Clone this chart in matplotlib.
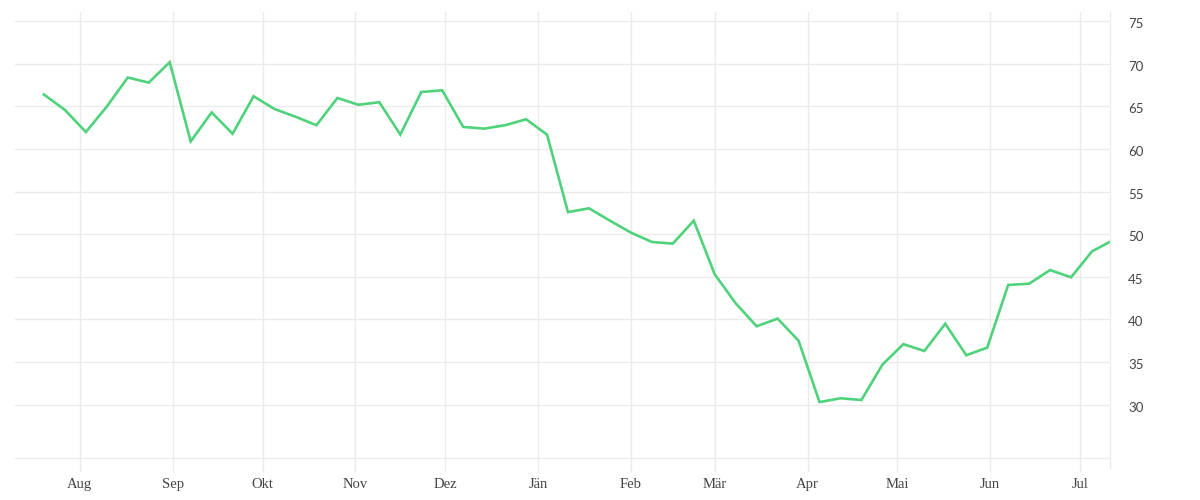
import matplotlib
matplotlib.use("Agg")
import matplotlib.pyplot as plt
import matplotlib.dates as mdates
import matplotlib.transforms as mtransforms
import pandas as pd

# weekly values
start_date = "2018-07-20"
values = [66.4, 64.6, 62.0, 65.0, 68.4, 67.8, 70.2, 60.9, 64.3, 61.8,
          66.2, 64.7, 63.8, 62.8, 66.0, 65.2, 65.5, 61.7, 66.7, 66.9,
          62.6, 62.4, 62.8, 63.5, 61.7, 52.6, 53.05, 51.6, 50.2, 49.1,
          48.9, 51.6, 45.3, 41.9, 39.2, 40.1, 37.5, 30.3, 30.75, 30.55,
          34.7, 37.1, 36.3, 39.5, 35.8, 36.7, 44.05, 44.2, 45.8, 44.95,
          48.0, 49.3]
y_ticks = [30, 35, 40, 45, 50, 55, 60, 65, 70, 75]
month_names = {1: "Jän", 2: "Feb", 3: "Mär", 4: "Apr", 5: "Mai", 6: "Jun",
               7: "Jul", 8: "Aug", 9: "Sep", 10: "Okt", 11: "Nov", 12: "Dez"}

dates = pd.date_range(start_date, periods=len(values), freq="7D")

grid_col = "#ebebeb"
text_col = "#444444"

fig = plt.figure(figsize=(12, 5), dpi=100)
ax = fig.add_axes([0.0125, 0.084, 0.9125, 0.892])

ax.plot(dates, values, color="#4fd27b", linewidth=1.9, solid_joinstyle="miter")

ax.set_xlim(pd.Timestamp("2018-07-10 08:00"), pd.Timestamp("2019-07-11"))
ax.set_ylim(23.74, 76.09)

# x axis: month starts, German month labels
ax.xaxis.set_major_locator(mdates.MonthLocator())
ax.xaxis.set_major_formatter(
    plt.FuncFormatter(lambda x, pos: month_names[mdates.num2date(x).month]))
ax.tick_params(axis="x", length=10, width=1, color=grid_col, pad=4.5,
               labelsize=10.5, labelcolor=text_col)
for lbl in ax.get_xticklabels():
    lbl.set_family("Liberation Serif")

# y axis on the right, labels sit a touch below their gridline
ax.yaxis.tick_right()
ax.set_yticks(y_ticks)
ax.tick_params(axis="y", length=0, pad=13, labelsize=9.5, labelcolor=text_col)
shift = mtransforms.ScaledTranslation(0, -2 / 100, fig.dpi_scale_trans)
for lbl in ax.get_yticklabels():
    lbl.set_family("Lato")
    lbl.set_horizontalalignment("left")
    lbl.set_transform(lbl.get_transform() + shift)

ax.grid(True, color=grid_col, linewidth=1)
ax.set_axisbelow(True)

for side in ["top", "left"]:
    ax.spines[side].set_visible(False)
ax.spines["bottom"].set_color(grid_col)
ax.spines["right"].set_color(grid_col)
ax.spines["bottom"].set_linewidth(1)
ax.spines["right"].set_linewidth(1)
ax.spines["right"].set_bounds(22.57, 76.09)
ax.spines["right"].set_clip_on(False)

fig.savefig("out.png", dpi=100, facecolor="white")
